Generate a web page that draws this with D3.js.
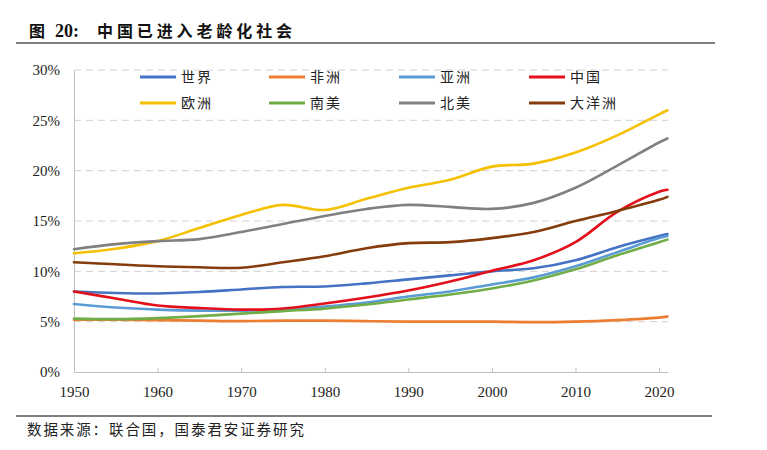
<!DOCTYPE html>
<html><head><meta charset="utf-8">
<script src="https://cdn.jsdelivr.net/npm/d3@7/dist/d3.min.js"></script>
<style>
html,body{margin:0;padding:0;background:#fff;}
svg{display:block;}
</style></head>
<body>
<svg id="chart" width="767" height="450"></svg>
<script>
const years = [1950,1955,1960,1965,1970,1975,1980,1985,1990,1995,2000,2005,2010,2015,2020,2021];
const seriesNames = ["世界","非洲","亚洲","中国","欧洲","南美","北美","大洋洲"];
const seriesColors = ["#4472C4","#ED7D31","#5B9BD5","#E3101C","#F5C000","#70AD47","#808080","#843C0C"];
const world    = [8.0,7.85,7.8,7.95,8.2,8.45,8.5,8.8,9.2,9.6,10.0,10.3,11.1,12.4,13.5,13.7];
const africa   = [5.2,5.2,5.15,5.1,5.05,5.1,5.1,5.05,5.0,5.0,5.0,4.95,5.0,5.15,5.4,5.5];
const asia     = [6.75,6.4,6.2,6.1,6.1,6.2,6.5,6.9,7.5,8.0,8.7,9.4,10.5,11.9,13.3,13.5];
const china    = [8.0,7.3,6.6,6.35,6.2,6.3,6.8,7.4,8.1,9.0,10.05,11.1,12.9,15.9,17.9,18.1];
const europe   = [11.8,12.25,13.0,14.3,15.6,16.6,16.1,17.2,18.3,19.1,20.4,20.7,21.8,23.5,25.6,26.0];
const samerica = [5.3,5.25,5.35,5.55,5.8,6.05,6.3,6.7,7.2,7.7,8.3,9.1,10.2,11.6,12.9,13.15];
const namerica = [12.2,12.7,13.0,13.2,13.9,14.7,15.5,16.2,16.6,16.4,16.2,16.8,18.3,20.5,22.8,23.2];
const oceania  = [10.9,10.7,10.5,10.4,10.35,10.9,11.5,12.3,12.8,12.9,13.3,13.9,15.0,16.0,17.1,17.4];
const seriesValues = [world,africa,asia,china,europe,samerica,namerica,oceania];
const xTicks = [1950,1960,1970,1980,1990,2000,2010,2020];
const yTicks = [0,5,10,15,20,25,30];
const titleParts = ["图","20:","中国已进入老龄化社会"];
const sourceText = "数据来源：联合国，国泰君安证券研究";

const svg = d3.select("#chart");
const x = d3.scaleLinear().domain([1950, 2021]).range([74, 667.4]);
const y = d3.scaleLinear().domain([0, 30]).range([372, 70]);

// Title
svg.append("text").attr("x",29).attr("y",37).attr("font-family","'Noto Sans CJK SC'").attr("font-weight","bold").attr("font-size",16).attr("fill","#111").text(titleParts[0]);
svg.append("text").attr("x",55).attr("y",37).attr("font-family","'Liberation Serif'").attr("font-weight","bold").attr("font-size",18).attr("fill","#111").text(titleParts[1]);
svg.append("text").attr("x",97).attr("y",37).attr("font-family","'Noto Sans CJK SC'").attr("font-weight","bold").attr("font-size",16).attr("letter-spacing",3.9).attr("fill","#111").text(titleParts[2]);
svg.append("line").attr("x1",16).attr("x2",715).attr("y1",43).attr("y2",43).attr("stroke","#7f7f7f").attr("stroke-width",2);

// Gridlines
svg.append("g").selectAll("line").data(yTicks.filter(d=>d>0)).join("line")
  .attr("x1",x(1950)).attr("x2",x(2021)).attr("y1",d=>y(d)).attr("y2",d=>y(d))
  .attr("stroke","#D0D0D0").attr("stroke-width",1).attr("stroke-dasharray","7,5");

// Y axis
const yAxis = svg.append("g").attr("transform",`translate(${x(1950)},0)`)
  .call(d3.axisLeft(y).tickValues(yTicks).tickSize(0).tickPadding(14).tickFormat(d=>d+"%"));
yAxis.select(".domain").attr("stroke","#BFBFBF");
yAxis.selectAll("text").attr("font-family","'Liberation Serif',serif").attr("font-size",15).attr("fill","#222");

// X axis
const xAxis = svg.append("g").attr("transform",`translate(0,${y(0)})`)
  .call(d3.axisBottom(x).tickValues(xTicks).tickSizeInner(-4).tickSizeOuter(0).tickPadding(14).tickFormat(d3.format("d")));
xAxis.select(".domain").attr("stroke","#BFBFBF");
xAxis.selectAll(".tick line").attr("stroke","#BFBFBF");
xAxis.selectAll("text").attr("font-family","'Liberation Serif',serif").attr("font-size",15).attr("fill","#222");

// Lines
const line = d3.line().x((d,i)=>x(years[i])).y(d=>y(d)).curve(d3.curveCatmullRom.alpha(0.5));
svg.append("g").selectAll("path").data(seriesValues).join("path")
  .attr("d",d=>line(d)).attr("fill","none")
  .attr("stroke",(d,i)=>seriesColors[i]).attr("stroke-width",2.6).attr("stroke-linejoin","round").attr("stroke-linecap","round");

// Legend
const legX = [140,269,399,529];
const legY = [77,103];
const leg = svg.append("g").selectAll("g").data(seriesNames).join("g")
  .attr("transform",(d,i)=>`translate(${legX[i%4]},${legY[Math.floor(i/4)]})`);
leg.append("line").attr("x1",0).attr("x2",36).attr("y1",0).attr("y2",0)
  .attr("stroke",(d,i)=>seriesColors[i]).attr("stroke-width",3);
leg.append("text").attr("x",41).attr("y",0).attr("dy","0.36em")
  .attr("font-family","'Noto Sans CJK SC'").attr("font-size",14).attr("letter-spacing",2).attr("fill","#222").text(d=>d);

// Source
svg.append("line").attr("x1",16).attr("x2",712).attr("y1",416).attr("y2",416).attr("stroke","#7f7f7f").attr("stroke-width",2);
svg.append("text").attr("x",27).attr("y",435).attr("font-family","'Noto Sans CJK SC'").attr("font-size",14.5).attr("letter-spacing",1.9).attr("fill","#222").text(sourceText);
</script>
</body></html>
